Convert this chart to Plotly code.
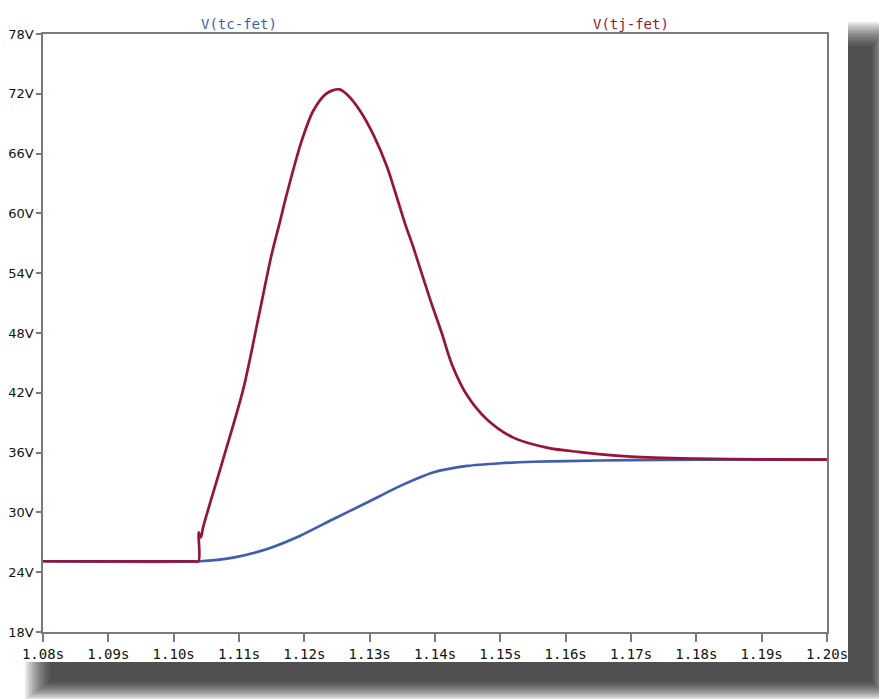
import plotly.graph_objects as go

# ---- data ----
t_tc = [1.080, 1.1040, 1.1091, 1.1142, 1.1193, 1.1244, 1.1296, 1.1347, 1.1397,
        1.1449, 1.1500, 1.1550, 1.1600, 1.1700, 1.1800, 1.1900, 1.2000]
v_tc = [25.1, 25.1, 25.47, 26.31, 27.64, 29.32, 30.99, 32.66, 34.0,
        34.66, 34.93, 35.08, 35.15, 35.25, 35.30, 35.30, 35.30]

t_tj = [1.0800, 1.1030, 1.1038, 1.10382, 1.10414, 1.10454, 1.1076, 1.11066, 1.11296,
        1.1150, 1.11628, 1.1173, 1.1196, 1.12137, 1.12332, 1.12535, 1.12673, 1.12852,
        1.13056, 1.13261, 1.13388, 1.1354, 1.13668, 1.13924, 1.14103, 1.14256, 1.14486,
        1.14792, 1.15199, 1.1571, 1.1622, 1.1700, 1.1800, 1.1900, 1.2000]
v_tj = [25.1, 25.1, 25.1, 28.0, 27.5, 28.6, 35.4, 42.4, 49.5,
        55.9, 59.2, 61.9, 67.3, 70.3, 72.0, 72.45, 71.8, 70.3,
        67.9, 64.75, 62.2, 59.0, 56.6, 51.4, 48.0, 44.9, 41.8,
        39.35, 37.5, 36.5, 36.05, 35.6, 35.4, 35.33, 35.3]

names = ["V(tc-fet)", "V(tj-fet)"]
colors = ["#3F5DB3", "#9A1237"]
x_ticks = [1.08 + 0.01 * i for i in range(13)]
y_ticks = [18 + 6 * i for i in range(11)]

# page body has an 8px default margin: size/offset the figure to compensate
OFF = 8
W, H = 887 - OFF, 699 - OFF
# plot area in page pixels: x 43..827, y 34..632
ML, MT = 43 - OFF, 34 - OFF
MR = W - (827 - OFF)
MB = H - (632 - OFF)
PW, PH = W - ML - MR, H - MT - MB


def px(x):  # page pixel -> paper
    return (x - OFF - ML) / PW


def py(y):
    return (H - MB - (y - OFF)) / PH


fig = go.Figure()
fig.add_trace(go.Scatter(x=t_tc, y=v_tc, mode="lines", name=names[0],
                         line=dict(color=colors[0], width=2.7, shape="spline", smoothing=0.7),
                         showlegend=False))
fig.add_trace(go.Scatter(x=t_tj, y=v_tj, mode="lines", name=names[1],
                         line=dict(color=colors[1], width=2.7, shape="spline", smoothing=0.9),
                         showlegend=False))

# ---- drop shadow (stacked translucent rectangles, masked by a white sheet) ----
shapes = []
N = 12
outer = (25, 22, 889, 700)
core = (50, 46, 872, 682)
for i in range(N):
    f = i / (N - 1)
    x0 = outer[0] + (core[0] - outer[0]) * f
    y0 = outer[1] + (core[1] - outer[1]) * f
    x1 = outer[2] + (core[2] - outer[2]) * f
    y1 = outer[3] + (core[3] - outer[3]) * f
    shapes.append(dict(type="rect", xref="paper", yref="paper", layer="below",
                       x0=px(x0), x1=px(x1), y0=py(y1), y1=py(y0),
                       fillcolor="black", opacity=0.09, line=dict(width=0)))
shapes.append(dict(type="rect", xref="paper", yref="paper", layer="below",
                   x0=px(0), x1=px(848), y0=py(662), y1=py(0),
                   fillcolor="white", opacity=1, line=dict(width=0)))

annotations = [
    dict(text=names[0], x=0.25, y=1, xref="paper", yref="paper", xanchor="center",
         yanchor="bottom", showarrow=False,
         font=dict(family="DejaVu Sans Mono", size=14, color=colors[0])),
    dict(text=names[1], x=0.75, y=1, xref="paper", yref="paper", xanchor="center",
         yanchor="bottom", showarrow=False,
         font=dict(family="DejaVu Sans Mono", size=14, color=colors[1])),
]

axis_common = dict(showline=True, linecolor="#7a7a7a", linewidth=1.5, mirror=True,
                   showgrid=False, zeroline=False, ticks="outside", automargin=False,
                   tickcolor="#7a7a7a", tickwidth=1.5)

fig.update_layout(
    width=W, height=H,
    margin=dict(l=ML, r=MR, t=MT, b=MB, autoexpand=False),
    paper_bgcolor="white", plot_bgcolor="white",
    shapes=shapes, annotations=annotations,
    xaxis=dict(range=[1.08, 1.20], tickvals=x_ticks,
               ticktext=["%.2fs" % v for v in x_ticks], ticklen=8,
               tickfont=dict(family="DejaVu Sans Mono", size=14, color="#111111"),
               **axis_common),
    yaxis=dict(range=[18, 78], tickvals=y_ticks,
               ticktext=["%dV" % v for v in y_ticks], ticklen=5,
               tickfont=dict(family="DejaVu Sans", size=13, color="#111111"),
               **axis_common),
)

fig.write_html("out.html")
